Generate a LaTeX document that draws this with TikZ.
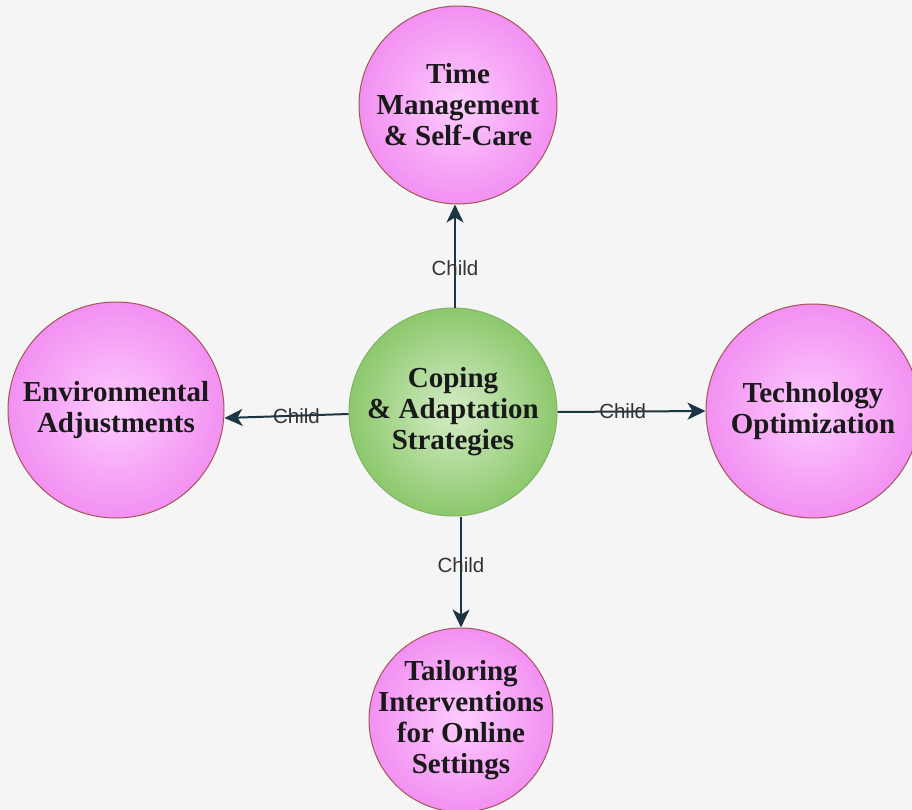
\documentclass[tikz,border=0pt]{standalone}
\usepackage{fontspec}
\setmainfont{Liberation Serif}
\setsansfont{Liberation Sans}
\usetikzlibrary{arrows.meta}
\definecolor{bg}{HTML}{F5F5F5}
\definecolor{pinkin}{HTML}{FDCCFD}
\definecolor{pinkout}{HTML}{F290F2}
\definecolor{pinkline}{HTML}{A35656}
\definecolor{greenin}{HTML}{D4ECC6}
\definecolor{greenout}{HTML}{8CC86C}
\definecolor{greenline}{HTML}{82B366}
\definecolor{edgecol}{HTML}{1C3545}
\definecolor{labcol}{HTML}{333333}
\tikzset{
  bubble/.style={circle, draw=pinkline, line width=1pt, shading=radial,
    inner color=pinkin, outer color=pinkout, inner sep=0pt},
  hub/.style={bubble, draw=greenline, inner color=greenin, outer color=greenout},
  txt/.style={align=center, inner sep=0pt,
    font=\fontsize{29}{31}\selectfont\bfseries, text=black!90},
  link/.style={draw=edgecol, line width=2pt, -{Stealth[length=18pt,width=17pt,inset=5pt]}},
  lab/.style={font=\sffamily\fontsize{20.5}{24}\selectfont, text=labcol, inner sep=0pt}
}
\begin{document}
\begin{tikzpicture}[x=1pt,y=-1pt]
\fill[bg] (0,0) rectangle (912,810);
\useasboundingbox (0,0) rectangle (912,810);
\clip (0,0) rectangle (912,810);
\node[hub, minimum size=208pt] (c) at (453,412) {};
\node[bubble, minimum size=198pt] (t) at (458,105) {};
\node[bubble, minimum size=216pt] (l) at (116,410) {};
\node[bubble, minimum size=214pt] (r) at (813,411) {};
\node[bubble, minimum size=184pt] (b) at (461,720) {};
\node[txt] (ct) at (c) {Coping\\\& Adaptation\\Strategies};
\node[txt] (tt) at (t) {Time\\Management\\\& Self-Care};
\node[txt] (lt) at (l) {Environmental\\Adjustments};
\node[txt] (rt) at (r) {Technology\\Optimization};
\node[txt] (bt) at (b) {Tailoring\\Interventions\\for Online\\Settings};
\draw[link] ([xshift=2pt]c.north) -- ([xshift=-3pt]t.south) node[lab, pos=0.38] (l1) {Child};
\draw[link] ([yshift=-2pt]c.west) -- ([yshift=-8pt]l.east) node[lab, pos=0.42] (l2) {Child};
\draw[link] ([yshift=0pt]c.east) -- (r.west) node[lab, pos=0.44] (l3) {Child};
\draw[link] ([xshift=8pt]c.south) -- (b.north) node[lab, pos=0.44] (l4) {Child};
\end{tikzpicture}
\end{document}
